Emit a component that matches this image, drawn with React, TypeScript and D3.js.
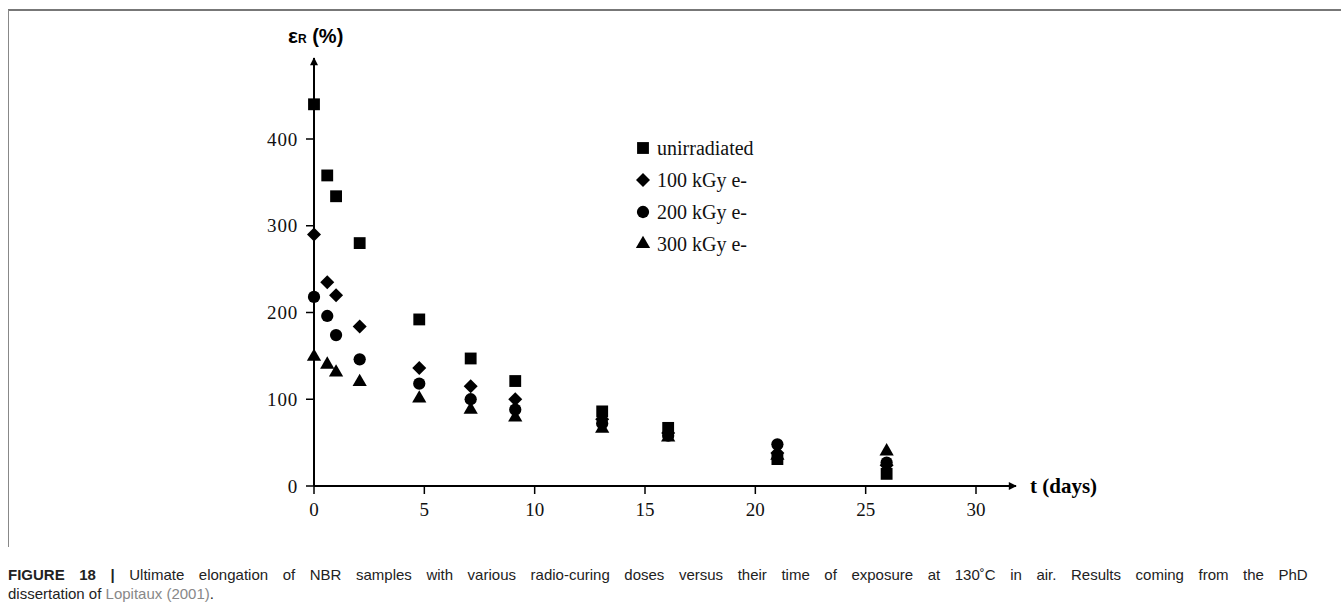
import React from "react";
import * as d3 from "d3";

const days = [0, 0.6, 1, 2.07, 4.77, 7.1, 9.12, 13.06, 16.05, 21, 25.95];
const unirradiated = [440, 358, 334, 280, 192, 147, 121, 86, 67, 31, 14];
const kGy100 = [290, 235, 220, 184, 136, 115, 100, 77, 61, 38, 24];
const kGy200 = [218, 196, 174, 146, 118, 100, 88, 72, 58, 48, 27];
const kGy300 = [149, 140, 131, 120, 101, 88, 79, 66, 56, 35, 40];
const xTicks = [0, 5, 10, 15, 20, 25, 30];
const yTicks = [0, 100, 200, 300, 400];
const seriesNames = ["unirradiated", "100 kGy e-", "200 kGy e-", "300 kGy e-"];

const x = d3.scaleLinear().domain([0, 30]).range([314, 976]);
const y = d3.scaleLinear().domain([0, 400]).range([486, 139]);

const shapes = [
  { type: d3.symbolSquare, size: 140, rot: 0 },
  { type: d3.symbolSquare, size: 98, rot: 45 },
  { type: d3.symbolCircle, size: 118, rot: 0 },
  { type: d3.symbolTriangle, size: 88, rot: 0 },
];
const seriesValues = [unirradiated, kGy100, kGy200, kGy300];

function Marker({ cx, cy, k }: { cx: number; cy: number; k: number }) {
  const s = shapes[k];
  const d = d3.symbol().type(s.type).size(s.size)() as string;
  return <path d={d} transform={`translate(${cx},${cy}) rotate(${s.rot})`} fill="#000" />;
}

export default function App() {
  const serif = "'Liberation Serif', 'Times New Roman', serif";
  const sans = "'Liberation Sans', Arial, sans-serif";
  return (
    <svg width={1341} height={604} style={{ position: "absolute", left: 0, top: 0 }}>
      <rect width={1341} height={604} fill="#fff" />
      {/* frame */}
      <line x1={8} y1={10} x2={1341} y2={10} stroke="#777" strokeWidth={2} />
      <line x1={8.5} y1={10} x2={8.5} y2={547} stroke="#888" strokeWidth={1} />
      <defs>
        <marker id="arr" viewBox="0 0 10 10" refX={9} refY={5} markerWidth={10} markerHeight={8} markerUnits="userSpaceOnUse" orient="auto">
          <path d="M0,0 L10,5 L0,10 z" fill="#000" />
        </marker>
      </defs>
      {/* axes */}
      <line x1={x(0)} y1={y(0)} x2={x(0)} y2={58} stroke="#000" strokeWidth={2} markerEnd="url(#arr)" />
      <line x1={x(0)} y1={y(0)} x2={1016} y2={y(0)} stroke="#000" strokeWidth={2} markerEnd="url(#arr)" />
      {yTicks.map((t) => (
        <g key={"y" + t}>
          <line x1={x(0) - 8} x2={x(0)} y1={y(t)} y2={y(t)} stroke="#000" strokeWidth={1.5} />
          <text x={x(0) - 16} y={y(t)} dy="0.35em" textAnchor="end" fontFamily={serif} fontSize={19} letterSpacing={0.8} fill="#111">
            {t}
          </text>
        </g>
      ))}
      {xTicks.map((t) => (
        <g key={"x" + t}>
          <line x1={x(t)} x2={x(t)} y1={y(0)} y2={y(0) + 8} stroke="#000" strokeWidth={1.5} />
          <text x={x(t)} y={y(0) + 30} textAnchor="middle" fontFamily={serif} fontSize={19} fill="#111">
            {t}
          </text>
        </g>
      ))}
      {/* axis titles */}
      <text x={288} y={43} fontFamily={sans} fontWeight="bold" fill="#000">
        <tspan fontSize={21}>ε</tspan>
        <tspan fontSize={12}>R</tspan>
        <tspan fontSize={20}> (%)</tspan>
      </text>
      <text x={1030} y={493} fontFamily={serif} fontWeight="bold" fontSize={21} fill="#000">
        t (days)
      </text>
      {/* data */}
      {seriesValues.map((vals, k) => (
        <g key={"s" + k}>
          {vals.map((v, i) => (
            <Marker key={i} cx={x(days[i])} cy={y(v)} k={k} />
          ))}
        </g>
      ))}
      {/* legend */}
      {seriesNames.map((n, k) => (
        <g key={"l" + k}>
          <Marker cx={643} cy={148 + k * 32} k={k} />
          <text x={657} y={148 + k * 32} dy="0.33em" fontFamily={serif} fontSize={20} fill="#111">
            {n}
          </text>
        </g>
      ))}
      {/* caption */}
      <text x={8} y={580} fontFamily={sans} fontSize={15} wordSpacing={10.4} fill="#222">
        <tspan fontWeight="bold">FIGURE 18 | </tspan>
        <tspan>
          Ultimate elongation of NBR samples with various radio-curing doses versus their time of exposure at 130˚C in air. Results coming from the PhD
        </tspan>
      </text>
      <text x={8} y={599} fontFamily={sans} fontSize={15} fill="#222">
        <tspan>dissertation of </tspan>
        <tspan fill="#888">Lopitaux (2001)</tspan>
        <tspan>.</tspan>
      </text>
    </svg>
  );
}
